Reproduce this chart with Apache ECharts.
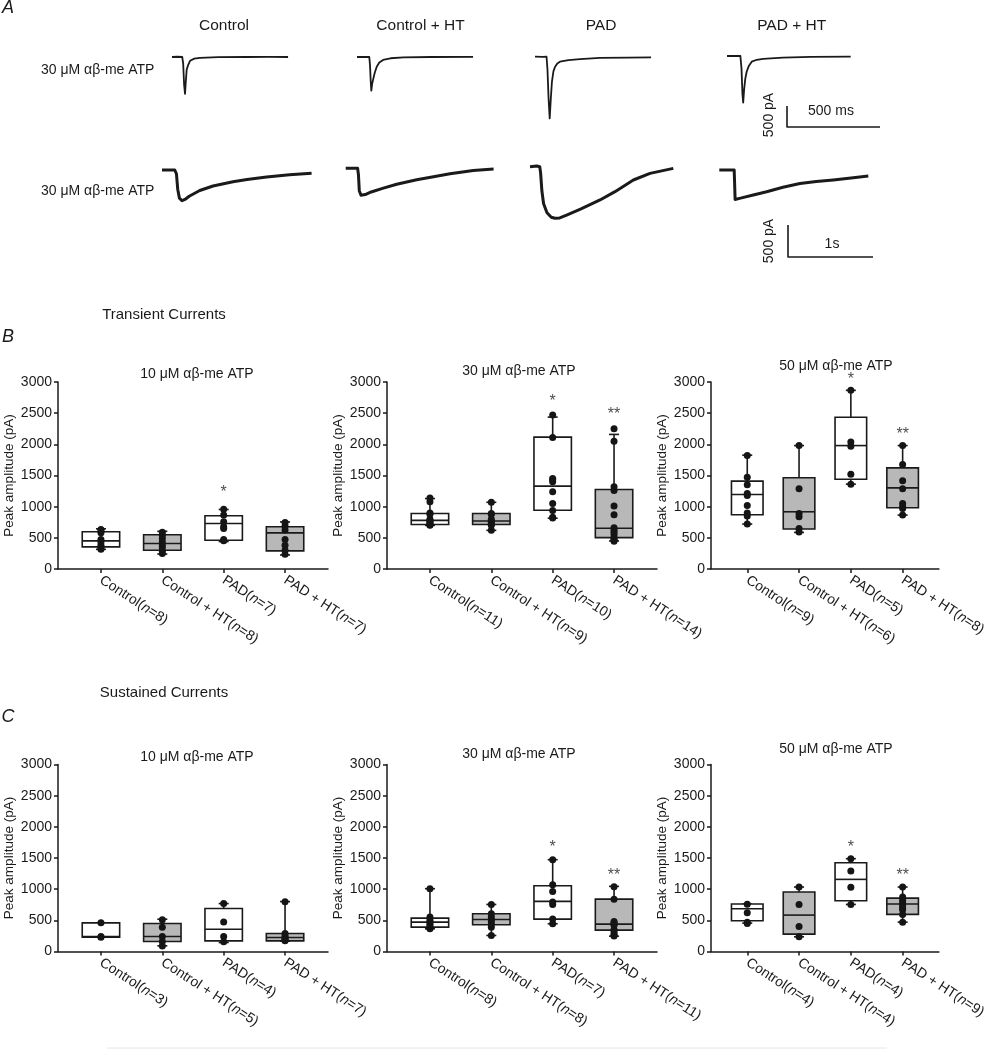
<!DOCTYPE html>
<html>
<head>
<meta charset="UTF-8">
<title>Transient and sustained currents</title>
<script src="https://cdn.jsdelivr.net/npm/echarts@6/dist/echarts.min.js"></script>
<style>
  html, body { margin: 0; padding: 0; background: #fff; }
  #chart { width: 989px; height: 1050px; }
</style>
</head>
<body>
<div id="chart"></div>
<script>
// ---- data ----
const groups = ['Control', 'Control + HT', 'PAD', 'PAD + HT'];
const yMin = 0, yMax = 3000, yStep = 500;

// box = [min, q1, median, q3, max] per group, dots = single cells
const nB10 = [8, 8, 7, 7];
const boxB10 = [[315, 355, 452, 597, 645], [240, 300, 410, 550, 605], [440, 462, 731, 855, 955], [225, 290, 580, 677, 755]];
const dotsB10 = [[318, 345, 380, 435, 475, 580, 610, 635], [247, 285, 339, 382, 435, 489, 543, 591], [452, 473, 650, 677, 758, 866, 957], [237, 301, 382, 473, 624, 688, 747]];
const starsB10 = [null, null, ['*', 1226], null];

const nB30 = [11, 9, 10, 14];
const boxB30 = [[700, 715, 780, 890, 1130], [620, 715, 770, 890, 1070], [815, 943, 1329, 2116, 2437], [450, 504, 654, 1275, 2159]];
const dotsB30 = [[700, 710, 720, 740, 760, 780, 800, 880, 900, 1080, 1140], [620, 700, 720, 750, 770, 800, 880, 890, 1070], [820, 830, 940, 1050, 1240, 1400, 1430, 1450, 2110, 2470], [445, 460, 480, 500, 550, 590, 620, 660, 870, 1010, 1260, 1320, 2050, 2250]];
const starsB30 = [null, null, ['*', 2679], ['**', 2480]];

const nB50 = [9, 6, 5, 8];
const boxB50 = [[721, 870, 1196, 1409, 1826], [587, 641, 918, 1463, 1980], [1361, 1441, 1980, 2434, 2866], [865, 982, 1302, 1623, 1980]];
const dotsB50 = [[720, 850, 900, 1020, 1180, 1210, 1350, 1470, 1820], [593, 651, 838, 891, 1286, 1980], [1361, 1521, 1970, 2039, 2866], [865, 972, 998, 1052, 1286, 1415, 1676, 1980]];
const starsB50 = [null, null, ['*', 3037], ['**', 2162]];

const nC10 = [3, 5, 4, 7];
const boxC10 = [[230, 230, 240, 460, 460], [91, 160, 240, 448, 518], [144, 171, 358, 689, 769], [165, 171, 224, 288, 801]];
const dotsC10 = [[230, 240, 460], [90, 160, 240, 390, 510], [155, 240, 475, 769], [171, 187, 198, 224, 250, 288, 800]];
const starsC10 = [null, null, null, null];

const nC30 = [8, 8, 7, 11];
const boxC30 = [[364, 391, 471, 536, 1007], [257, 429, 514, 605, 755], [445, 520, 804, 1055, 1473], [246, 343, 439, 841, 1045]];
const dotsC30 = [[364, 380, 418, 445, 477, 509, 552, 1007], [257, 391, 434, 477, 509, 552, 605, 755], [445, 520, 755, 793, 964, 1071, 1473], [250, 260, 290, 330, 350, 420, 440, 460, 480, 840, 1040]];
const starsC30 = [null, null, ['*', 1661], ['**', 1211]];

const nC50 = [4, 4, 4, 9];
const boxC50 = [[455, 493, 686, 761, 761], [236, 279, 584, 954, 1034], [755, 814, 1157, 1425, 1489], [471, 595, 761, 857, 1034]];
const dotsC50 = [[450, 470, 620, 760], [236, 402, 755, 1034], [755, 1029, 1291, 1489], [471, 595, 670, 696, 739, 777, 820, 873, 1034]];
const starsC50 = [null, null, ['*', 1666], ['**', 1211]];

const titles = ['10 μM αβ-me ATP', '30 μM αβ-me ATP', '50 μM αβ-me ATP'];

// example traces [ms, pA]
const topControl = [[0, 0], [30, 6], [55, 0], [60, -150], [65, -650], [70, -880], [74, -600], [79, -300], [86, -200], [97, -90], [120, -40], [150, -20], [250, -5], [400, 0], [520, 5], [624, 0]];
const topControlHT = [[0, 0], [40, 5], [66, 0], [70, -200], [74, -600], [77, -800], [81, -650], [86, -550], [95, -380], [106, -230], [120, -130], [140, -70], [180, -30], [250, -10], [400, 0], [624, 5]];
const topPAD = [[0, 0], [40, -5], [62, 0], [67, -300], [73, -1000], [79, -1470], [85, -1000], [91, -600], [99, -350], [108, -240], [120, -160], [134, -120], [180, -80], [242, -60], [350, -30], [500, -20], [624, -15]];
const topPADHT = [[0, 0], [40, 5], [72, 0], [78, -300], [83, -900], [87, -1110], [92, -800], [98, -550], [106, -370], [118, -230], [133, -135], [160, -90], [194, -70], [300, -40], [450, -20], [665, -15]];
const botControl = [[0, 0], [150, 0], [170, -60], [185, -300], [205, -440], [235, -480], [270, -460], [320, -410], [444, -320], [600, -250], [835, -185], [1000, -150], [1231, -110], [1500, -75], [1760, -50]];
const botControlHT = [[0, 0], [140, 0], [150, -100], [160, -350], [180, -420], [230, -410], [300, -370], [443, -310], [600, -250], [835, -180], [1000, -140], [1227, -85], [1500, -35], [1740, -10]];
const botPAD = [[0, 0], [80, 10], [115, 0], [125, -100], [140, -380], [160, -580], [200, -720], [250, -790], [294, -806], [350, -800], [431, -755], [600, -660], [824, -520], [1000, -390], [1216, -208], [1412, -104], [1686, -26]];
const botPADHT = [[0, 0], [175, 0], [180, -200], [186, -460], [250, -440], [400, -390], [557, -340], [749, -270], [949, -210], [1141, -180], [1341, -156], [1550, -125], [1753, -94]];
const scaleTop = [[0, 500], [0, 0], [500, 0]];
const scaleBot = [[0, 500], [0, 0], [1000, 0]];

// ---- layout ----
const font = '"Liberation Sans", Arial, Helvetica, sans-serif';
const ink = '#1a1a1a';
const boxLefts = [58, 387, 711];
const boxTops = [382, 764.5];
const boxW = 270, boxH = 187;
const titleX = [192, 514, 831];
const titleY = [370, 367, 362, 753, 750, 745];

const panels = [
  [nB10, boxB10, dotsB10, starsB10], [nB30, boxB30, dotsB30, starsB30], [nB50, boxB50, dotsB50, starsB50],
  [nC10, boxC10, dotsC10, starsC10], [nC30, boxC30, dotsC30, starsC30], [nC50, boxC50, dotsC50, starsC50]
];

function renderBox(params, api) {
  const x = api.value(0);
  const pt = k => api.coord([x, api.value(k)]);
  const lo = pt(1), q1 = pt(2), md = pt(3), q3 = pt(4), hi = pt(5);
  const half = api.size([0.61, 0])[0] / 2;
  const cap = 5;
  const cx = lo[0];
  const st = () => ({ stroke: ink, lineWidth: 1.6 });
  const fill = params.dataIndex % 2 ? '#b8b8b8' : '#ffffff';
  return {
    type: 'group',
    children: [
      { type: 'line', shape: { x1: cx, y1: hi[1], x2: cx, y2: q3[1] }, style: st() },
      { type: 'line', shape: { x1: cx, y1: q1[1], x2: cx, y2: lo[1] }, style: st() },
      { type: 'line', shape: { x1: cx - cap, y1: hi[1], x2: cx + cap, y2: hi[1] }, style: st() },
      { type: 'line', shape: { x1: cx - cap, y1: lo[1], x2: cx + cap, y2: lo[1] }, style: st() },
      { type: 'rect', shape: { x: cx - half, y: q3[1], width: half * 2, height: q1[1] - q3[1] }, style: { fill, stroke: ink, lineWidth: 1.6 } },
      { type: 'line', shape: { x1: cx - half, y1: md[1], x2: cx + half, y2: md[1] }, style: st() }
    ]
  };
}

const grid = [], xAxis = [], yAxis = [], series = [], title = [];

panels.forEach(([n, box, dots, stars], p) => {
  const row = Math.floor(p / 3), col = p % 3;
  grid.push({ left: boxLefts[col], top: boxTops[row], width: boxW, height: boxH });
  xAxis.push({
    type: 'value', gridIndex: p, min: 0.3, max: 4.7,
    axisLine: { show: true, lineStyle: { color: ink, width: 1.5 } },
    axisTick: { show: true, length: 4, customValues: [1, 2, 3, 4], lineStyle: { color: ink, width: 1.5 } },
    splitLine: { show: false },
    axisLabel: {
      customValues: [1, 2, 3, 4], rotate: -33, margin: 10,
      fontFamily: font, fontSize: 14, color: ink,
      formatter: v => {
        const i = Math.round(v) - 1;
        return groups[i] + '({i|n}=' + n[i] + ')';
      },
      rich: { i: { fontStyle: 'italic', fontFamily: font, fontSize: 14, color: ink } }
    }
  });
  yAxis.push({
    type: 'value', gridIndex: p, min: yMin, max: yMax, interval: yStep,
    name: 'Peak amplitude (pA)', nameLocation: 'middle', nameGap: 42,
    nameTextStyle: { fontFamily: font, fontSize: 13.5, color: ink },
    axisLine: { show: true, lineStyle: { color: ink, width: 1.5 } },
    axisTick: { show: true, length: 4, lineStyle: { color: ink, width: 1.5 } },
    splitLine: { show: false },
    axisLabel: { margin: 6, fontFamily: font, fontSize: 14, color: ink, formatter: v => String(v) }
  });
  title.push({
    text: titles[col], left: titleX[col], top: titleY[p] - 8, textAlign: 'center',
    textStyle: { fontFamily: font, fontSize: 14, fontWeight: 'normal', color: ink }
  });
  series.push({
    type: 'custom', xAxisIndex: p, yAxisIndex: p, z: 2,
    renderItem: renderBox,
    encode: { x: 0, y: [1, 2, 3, 4, 5] },
    data: box.map((b, i) => [i + 1].concat(b))
  });
  series.push({
    type: 'scatter', xAxisIndex: p, yAxisIndex: p, z: 3,
    symbolSize: 7, itemStyle: { color: '#151515', opacity: 1 },
    data: dots.flatMap((arr, i) => arr.map(v => [i + 1, v]))
  });
  series.push({
    type: 'scatter', xAxisIndex: p, yAxisIndex: p, z: 4, clip: false,
    symbolSize: 0,
    label: { show: true, position: 'inside', formatter: d => d.name, fontFamily: font, fontSize: 16, color: ink },
    data: stars.map((s, i) => s ? { name: s[0], value: [i + 1, s[1]] } : null).filter(Boolean)
  });
});

// trace grids: [data, left, top, xMax, yMin, yMax, width, height, lineWidth]
const traceLayout = [
  [topControl, 172, 52.8, 700, -1600, 100, 130.2, 71.4, 1.8],
  [topControlHT, 357, 52.8, 700, -1600, 100, 130.2, 71.4, 1.8],
  [topPAD, 535, 52.5, 700, -1600, 100, 130.2, 71.4, 1.8],
  [topPADHT, 727, 51.8, 700, -1600, 100, 130.2, 71.4, 1.8],
  [botControl, 162, 163.6, 1800, -900, 100, 153, 64, 3],
  [botControlHT, 345.7, 161.9, 1800, -900, 100, 153, 64, 3],
  [botPAD, 530, 160.3, 1800, -900, 100, 153, 64, 3],
  [botPADHT, 719.3, 163.6, 1800, -900, 100, 153, 64, 3],
  [scaleTop, 787, 101.8, 700, -100, 600, 130.2, 29.4, 1.6],
  [scaleBot, 788, 218.6, 1800, -100, 600, 153, 44.8, 1.6]
];
traceLayout.forEach(([data, left, top, xMax, y0, y1, w, h, lw]) => {
  const g = grid.length;
  grid.push({ left, top, width: w, height: h });
  xAxis.push({ type: 'value', gridIndex: g, min: 0, max: xMax, show: false });
  yAxis.push({ type: 'value', gridIndex: g, min: y0, max: y1, show: false });
  series.push({
    type: 'line', xAxisIndex: g, yAxisIndex: g, data, showSymbol: false, symbol: 'none',
    clip: false, silent: true,
    lineStyle: { color: ink, width: lw, join: 'round' }
  });
});

const txt = (text, x, y, size, extra) => ({
  type: 'text', x, y, ...(extra || {}),
  style: Object.assign({ text, font: size + 'px ' + font, fill: ink, align: 'center', verticalAlign: 'middle' }, (extra && extra.st) || {})
});

const graphic = [
  txt('A', 8, 8, 18, { st: { font: 'italic 18px ' + font } }),
  txt('B', 8, 337, 18, { st: { font: 'italic 18px ' + font } }),
  txt('C', 8, 717, 18, { st: { font: 'italic 18px ' + font } }),
  txt('Control', 224, 26, 15.5),
  txt('Control + HT', 420.5, 26, 15.5),
  txt('PAD', 601, 26, 15.5),
  txt('PAD + HT', 791.7, 26, 15.5),
  txt('30 μM αβ-me ATP', 41, 70, 14, { st: { align: 'left' } }),
  txt('30 μM αβ-me ATP', 41, 190.7, 14, { st: { align: 'left' } }),
  txt('500 ms', 831, 111, 14),
  txt('500 pA', 769, 115, 14, { rotation: Math.PI / 2 }),
  txt('1s', 832, 244, 14),
  txt('500 pA', 769, 241, 14, { rotation: Math.PI / 2 }),
  txt('Transient Currents', 164, 315, 15),
  txt('Sustained Currents', 164, 693, 15),
  { type: 'line', shape: { x1: 107, y1: 1048, x2: 887, y2: 1048 }, style: { stroke: '#e6e6e6', lineWidth: 1 } }
];

const chart = echarts.init(document.getElementById('chart'));
chart.setOption({
  animation: false,
  backgroundColor: '#fff',
  title, grid, xAxis, yAxis, series, graphic
});
</script>
</body>
</html>
